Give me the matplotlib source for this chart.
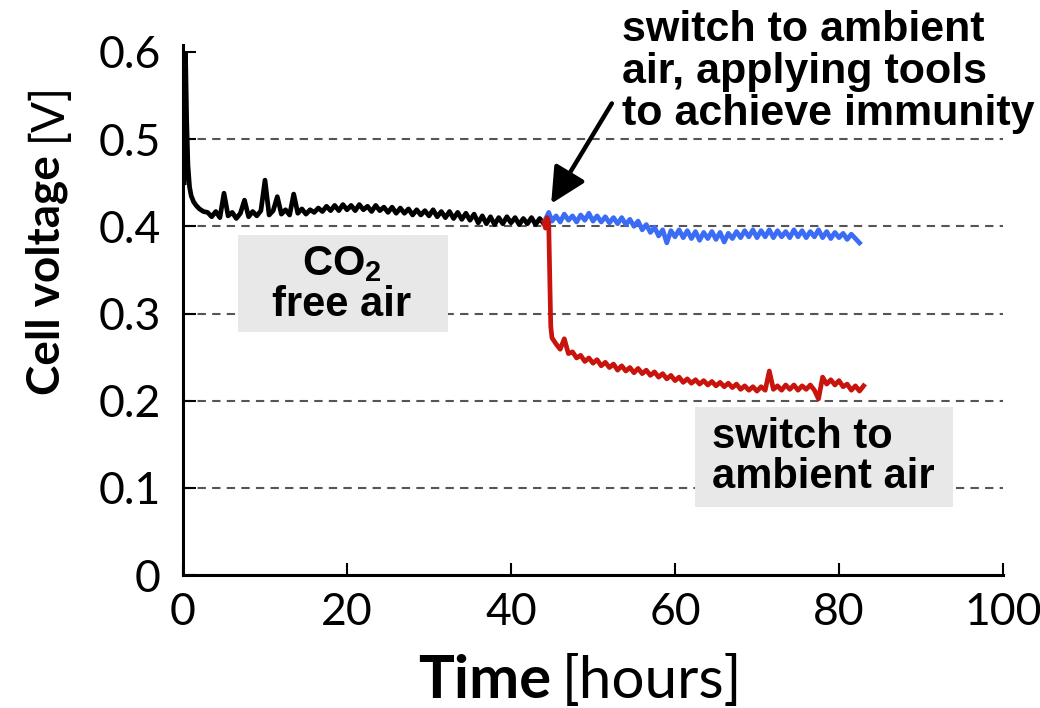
import numpy as np
import matplotlib
matplotlib.use("Agg")
import matplotlib.pyplot as plt
from matplotlib.patches import Rectangle

# --- data ---
# start-up spike of the CO2-free run
spike_t = [0.15, 0.3, 0.45, 0.6, 0.8, 1.0, 1.3, 1.6, 2.0, 2.5]
spike_v = [0.45, 0.60, 0.52, 0.47, 0.445, 0.435, 0.428, 0.424, 0.42, 0.417]

# CO2-free air, from t = 3 h every 0.5 h
co2free_start, co2free_step = 3.0, 0.5
co2free_v = [
    0.416, 0.411, 0.417, 0.410, 0.438, 0.412, 0.416, 0.409, 0.415, 0.430,
    0.411, 0.417, 0.412, 0.418, 0.453, 0.413, 0.418, 0.434, 0.414, 0.419,
    0.413, 0.437, 0.415, 0.420, 0.414, 0.419, 0.416, 0.421, 0.417, 0.423,
    0.418, 0.424, 0.418, 0.425, 0.419, 0.424, 0.418, 0.425, 0.419, 0.423,
    0.417, 0.424, 0.418, 0.422, 0.416, 0.422, 0.415, 0.421, 0.415, 0.420,
    0.413, 0.419, 0.413, 0.418, 0.412, 0.419, 0.411, 0.417, 0.410, 0.417,
    0.409, 0.416, 0.408, 0.415, 0.407, 0.414, 0.404, 0.412, 0.403, 0.411,
    0.402, 0.410, 0.403, 0.411, 0.404, 0.410, 0.402, 0.409, 0.403, 0.410,
    0.402, 0.409, 0.403, 0.408,
]

# ambient air, no protection (red)
amb_drop_t = [44.0, 44.2, 44.4, 44.6, 44.75, 44.85, 45.0]
amb_drop_v = [0.405, 0.398, 0.410, 0.404, 0.330, 0.285, 0.272]
amb_start, amb_step = 45.5, 0.5
amb_v = [
    0.265, 0.259, 0.271, 0.254, 0.256, 0.249, 0.252, 0.245, 0.249, 0.243,
    0.247, 0.240, 0.244, 0.238, 0.242, 0.235, 0.240, 0.234, 0.238, 0.232,
    0.237, 0.231, 0.235, 0.229, 0.233, 0.227, 0.231, 0.225, 0.229, 0.223,
    0.227, 0.221, 0.225, 0.220, 0.224, 0.219, 0.223, 0.218, 0.222, 0.217,
    0.221, 0.216, 0.220, 0.215, 0.219, 0.213, 0.217, 0.212, 0.216, 0.211,
    0.216, 0.212, 0.234, 0.213, 0.217, 0.212, 0.218, 0.213, 0.218, 0.212,
    0.217, 0.213, 0.218, 0.212, 0.202, 0.227, 0.219, 0.224, 0.218, 0.223,
    0.216, 0.219, 0.212, 0.217, 0.211, 0.217,
]

# ambient air with immunity tools (blue)
imm_head_t = [44.3, 44.6]
imm_head_v = [0.410, 0.416]
imm_start, imm_step = 45.0, 0.5
imm_v = [
    0.406, 0.412, 0.405, 0.414, 0.407, 0.412, 0.405, 0.413, 0.407, 0.415,
    0.406, 0.412, 0.405, 0.411, 0.404, 0.410, 0.403, 0.410, 0.402, 0.408,
    0.400, 0.406, 0.396, 0.402, 0.393, 0.399, 0.389, 0.396, 0.381, 0.395,
    0.388, 0.396, 0.387, 0.395, 0.386, 0.394, 0.384, 0.393, 0.386, 0.394,
    0.385, 0.393, 0.382, 0.392, 0.386, 0.394, 0.387, 0.395, 0.388, 0.396,
    0.387, 0.395, 0.388, 0.396, 0.387, 0.395, 0.388, 0.394, 0.387, 0.396,
    0.388, 0.395, 0.387, 0.394, 0.388, 0.396, 0.387, 0.394, 0.386, 0.393,
    0.387, 0.392, 0.385, 0.391, 0.386, 0.381,
]

xticks = [0, 20, 40, 60, 80, 100]
yticks = [0, 0.1, 0.2, 0.3, 0.4, 0.5, 0.6]
ytick_labels = ["0", "0.1", "0.2", "0.3", "0.4", "0.5", "0.6"]


def series(start, step, values):
    t = start + step * np.arange(len(values))
    return t, np.array(values)


W, H = 1040, 708


def fx(px):
    return px / W


def fy(py):
    return 1 - py / H


plt.rcParams["mathtext.fontset"] = "custom"
plt.rcParams["mathtext.rm"] = "Liberation Sans:bold"
plt.rcParams["mathtext.bf"] = "Liberation Sans:bold"

tick_font = ["Lato", "DejaVu Sans"]
label_font = ["Lato", "DejaVu Sans"]
note_font = ["Liberation Sans", "DejaVu Sans"]

fig = plt.figure(figsize=(W / 100, H / 100), dpi=100)
ax = fig.add_axes([fx(183), fy(575), fx(1003) - fx(183), fy(52) - fy(575)])

# dashed reference lines
for y in yticks[1:-1]:
    ax.axhline(y, color="#555555", lw=1.5, ls=(0, (4, 3)), zorder=0.5)

lw = 3.4
t0, v0 = series(co2free_start, co2free_step, co2free_v)
ax.plot(np.r_[spike_t, t0], np.r_[spike_v, v0], color="black", lw=lw, zorder=3)

t2, v2 = series(imm_start, imm_step, imm_v)
ax.plot(np.r_[imm_head_t, t2], np.r_[imm_head_v, v2], color="#3a6cf5", lw=lw, zorder=3)

t1, v1 = series(amb_start, amb_step, amb_v)
ax.plot(np.r_[amb_drop_t, t1], np.r_[amb_drop_v, v1], color="#c8140c", lw=lw, zorder=4)

ax.set_xlim(0, 100)
ax.set_ylim(0, 0.6)
ax.set_xticks(xticks)
ax.set_yticks(yticks)
ax.set_yticklabels(ytick_labels)
for lab in ax.get_xticklabels() + ax.get_yticklabels():
    lab.set_family(tick_font)
    lab.set_fontsize(32)
ax.tick_params(direction="in", length=9, width=1.5, pad=16)
ax.tick_params(axis="x", pad=12)

for s in ["top", "right"]:
    ax.spines[s].set_visible(False)
for s in ["left", "bottom"]:
    ax.spines[s].set_linewidth(2.2)
ax.spines["left"].set_bounds(0, 0.608)

# axis titles (bold + regular parts)
fig.text(fx(418), fy(698), "Time", fontsize=43, fontweight="bold",
         family=label_font, ha="left", va="baseline")
fig.text(fx(562), fy(698), "[hours]", fontsize=42,
         family=label_font, ha="left", va="baseline")
fig.text(fx(47), fy(395), "Cell voltage", fontsize=33, fontweight="bold",
         family=label_font, rotation=90, ha="center", va="bottom")
fig.text(fx(47), fy(82), "[V]", fontsize=33,
         family=label_font, rotation=90, ha="center", va="top")

# grey label boxes
for (x0, y0, x1, y1) in [(238, 235, 448, 332), (695, 407, 953, 507)]:
    fig.add_artist(Rectangle((fx(x0), fy(y1)), fx(x1) - fx(x0), fy(y0) - fy(y1),
                             transform=fig.transFigure, facecolor="#e8e8e8",
                             edgecolor="none", zorder=1))

fig.text(fx(342), fy(264), r"CO$_2$", fontsize=30, fontweight="bold",
         family=note_font, ha="center", va="center", zorder=2)
fig.text(fx(342), fy(305), "free air", fontsize=30, fontweight="bold",
         family=note_font, ha="center", va="center", zorder=2)
fig.text(fx(712), fy(457), "switch to\nambient air", fontsize=30,
         fontweight="bold", family=note_font, ha="left", va="center",
         linespacing=1.0, zorder=2)

fig.text(fx(622), fy(10), "switch to ambient\nair, applying tools\nto achieve immunity",
         ha="left", va="top", fontsize=31, fontweight="bold", family=note_font,
         linespacing=1.07)
ax.annotate("", xy=(44.9, 0.426), xytext=(52.3, 0.541),
            arrowprops=dict(arrowstyle="-|>,head_length=0.9,head_width=0.45",
                            color="black", lw=3.2, shrinkA=0, shrinkB=0,
                            mutation_scale=24))

fig.savefig("out.png", dpi=100)
